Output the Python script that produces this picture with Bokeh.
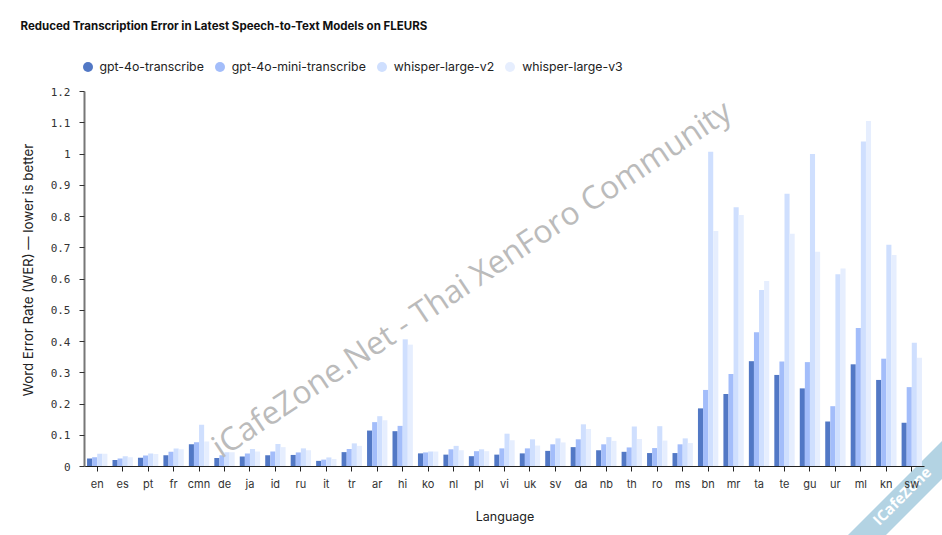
from bokeh.embed import file_html
from bokeh.resources import INLINE
from bokeh.plotting import figure
from bokeh.models import (ColumnDataSource, FixedTicker, Label, Legend, LegendItem,
                          NumeralTickFormatter, PolyAnnotation, Range1d)

languages = ["en","es","pt","fr","cmn","de","ja","id","ru","it","tr","ar","hi","ko","nl","pl","vi","uk","sv","da","nb","th","ro","ms","bn","mr","ta","te","gu","ur","ml","kn","sw"]
gpt_4o = [.026,.021,.028,.036,.071,.027,.032,.036,.037,.018,.046,.115,.113,.042,.038,.033,.038,.042,.05,.062,.052,.047,.043,.043,.186,.232,.337,.293,.25,.144,.327,.277,.14]
gpt_4o_mini = [.03,.026,.035,.047,.078,.036,.042,.048,.045,.022,.056,.142,.13,.045,.055,.049,.058,.058,.071,.087,.071,.061,.059,.071,.245,.296,.43,.336,.334,.193,.443,.345,.254]
whisper_v2 = [.041,.033,.042,.058,.134,.046,.056,.072,.058,.029,.074,.161,.407,.048,.066,.055,.105,.087,.09,.135,.094,.128,.129,.09,1.007,.83,.565,.873,1.0,.615,1.04,.71,.396]
whisper_v3 = [.041,.03,.04,.055,.08,.046,.048,.062,.052,.024,.066,.148,.39,.048,.052,.049,.084,.067,.077,.12,.082,.088,.083,.075,.754,.805,.594,.745,.687,.634,1.106,.677,.348]
series_names = ["gpt-4o-transcribe","gpt-4o-mini-transcribe","whisper-large-v2","whisper-large-v3"]
series_cols = ["a","b","c","d"]
colors = ["#5278c5","#a3bdfa","#cfdffe","#e6eefe"]
y_ticks = [0,.1,.2,.3,.4,.5,.6,.7,.8,.9,1,1.1,1.2]

positions = [i + 0.5 for i in range(len(languages))]
source = ColumnDataSource(dict(pos=positions,a=gpt_4o,b=gpt_4o_mini,c=whisper_v2,d=whisper_v3))

W,H = 942,535
FT,FB = 40,535     # the frame is larger than the axes so that annotations are not clipped
AX0,AXL,AXR = 466,84,924
PX_PER_UNIT = 312.5
PX_PER_FACTOR = (AXR-AXL)/len(languages)
p = figure(width=W,height=H,output_backend="svg",toolbar_location=None,
           x_range=Range1d(-AXL/PX_PER_FACTOR,(W-AXL)/PX_PER_FACTOR),
           y_range=Range1d(-(FB-AX0)/PX_PER_UNIT,(AX0-FT)/PX_PER_UNIT),
           min_border_left=0,min_border_right=0,min_border_top=FT,min_border_bottom=0,
           background_fill_color="white",border_fill_color="white")
p.outline_line_color=None
p.grid.visible=False

offs=[-.3,-.1,.1,.3]
bar_w=.2
for col,off,c in zip(series_cols,offs,colors):
    p.vbar(x=[v+off for v in positions],top=source.data[col],width=bar_w,bottom=0,color=c,line_color=None)

def sx(px): return px
def sy(py): return FB-py

items=[]
for name,c in zip(series_names,colors):
    r=p.scatter(x=[0],y=[float("nan")],size=10,color=c,line_color=None)
    items.append(LegendItem(label=name,renderers=[r]))
legend=Legend(items=items,orientation="horizontal",location=(sx(74.5),sy(78.5)),border_line_color=None,background_fill_alpha=0,
              glyph_width=25,glyph_height=25,label_standoff=0,spacing=3,padding=0,margin=0,
              label_text_font="Inter",label_text_font_size="12.3px",label_text_color="#222222")
p.add_layout(legend,"center")

p.title.text="Reduced Transcription Error in Latest Speech-to-Text Models on FLEURS"
p.title.text_font="Inter"; p.title.text_font_size="11.5px"; p.title.text_font_style="bold"; p.title.text_color="#111111"
p.title.offset=20; p.title.standoff=15

ax,ay=p.xaxis[0],p.yaxis[0]
ax.fixed_location=0; ay.fixed_location=0
ax.bounds=(0,len(languages)); ay.bounds=(0,1.2)
for a in (ax,ay):
    a.major_tick_in=0; a.major_tick_out=5; a.minor_tick_line_color=None
    a.major_label_text_color="#333333"
ax.ticker=FixedTicker(ticks=positions)
ax.major_label_overrides=dict(zip(positions,languages))
ax.axis_line_color="#222222"; ax.major_tick_line_color="#222222"
ax.major_label_text_font="Inter"; ax.major_label_text_font_size="11px"; ax.major_label_standoff=5
ay.axis_line_color="#777777"; ay.axis_line_width=2; ay.major_tick_line_color="#333333"
ay.major_label_text_font="DejaVu Sans Mono"; ay.major_label_text_font_size="11px"; ay.major_label_standoff=9
ay.ticker=FixedTicker(ticks=y_ticks); ay.formatter=NumeralTickFormatter(format="0.[0]")

# axis titles as labels: their centres differ from the centre of the enlarged frame
p.add_layout(Label(x=sx(27),y=sy(269.5),x_units="screen",y_units="screen",text="Word Error Rate (WER) — lower is better",
                   angle=90,angle_units="deg",text_font="Inter",text_font_size="13.3px",text_color="#222222",
                   text_align="center",text_baseline="middle"))
p.add_layout(Label(x=sx(504.5),y=sy(516),x_units="screen",y_units="screen",text="Language",
                   text_font="Inter",text_font_size="12.5px",text_color="#222222",
                   text_align="center",text_baseline="middle"))

p.add_layout(Label(x=sx(214),y=sy(448),x_units="screen",y_units="screen",text="iCafeZone.Net - Thai XenForo Community",
                   angle=33.7,angle_units="deg",text_font="Open Sans",text_font_size="32px",text_color="#bbbbbb",text_baseline="middle",level="overlay"))
ribbon_x=[847,942,942,885]; ribbon_y=[535,440,478,535]
p.add_layout(PolyAnnotation(xs=[sx(v) for v in ribbon_x],ys=[sy(v) for v in ribbon_y],xs_units="screen",ys_units="screen",
                            fill_color="#b3d3e3",fill_alpha=1,line_color=None,level="underlay"))
p.add_layout(Label(x=sx(901),y=sy(495),x_units="screen",y_units="screen",text="ICafeZone",angle=45,angle_units="deg",
                   text_font="Open Sans",text_font_size="15px",text_font_style="bold",text_color="white",text_align="center",text_baseline="middle",level="underlay"))

open("out.html","w").write(file_html(p,INLINE))
